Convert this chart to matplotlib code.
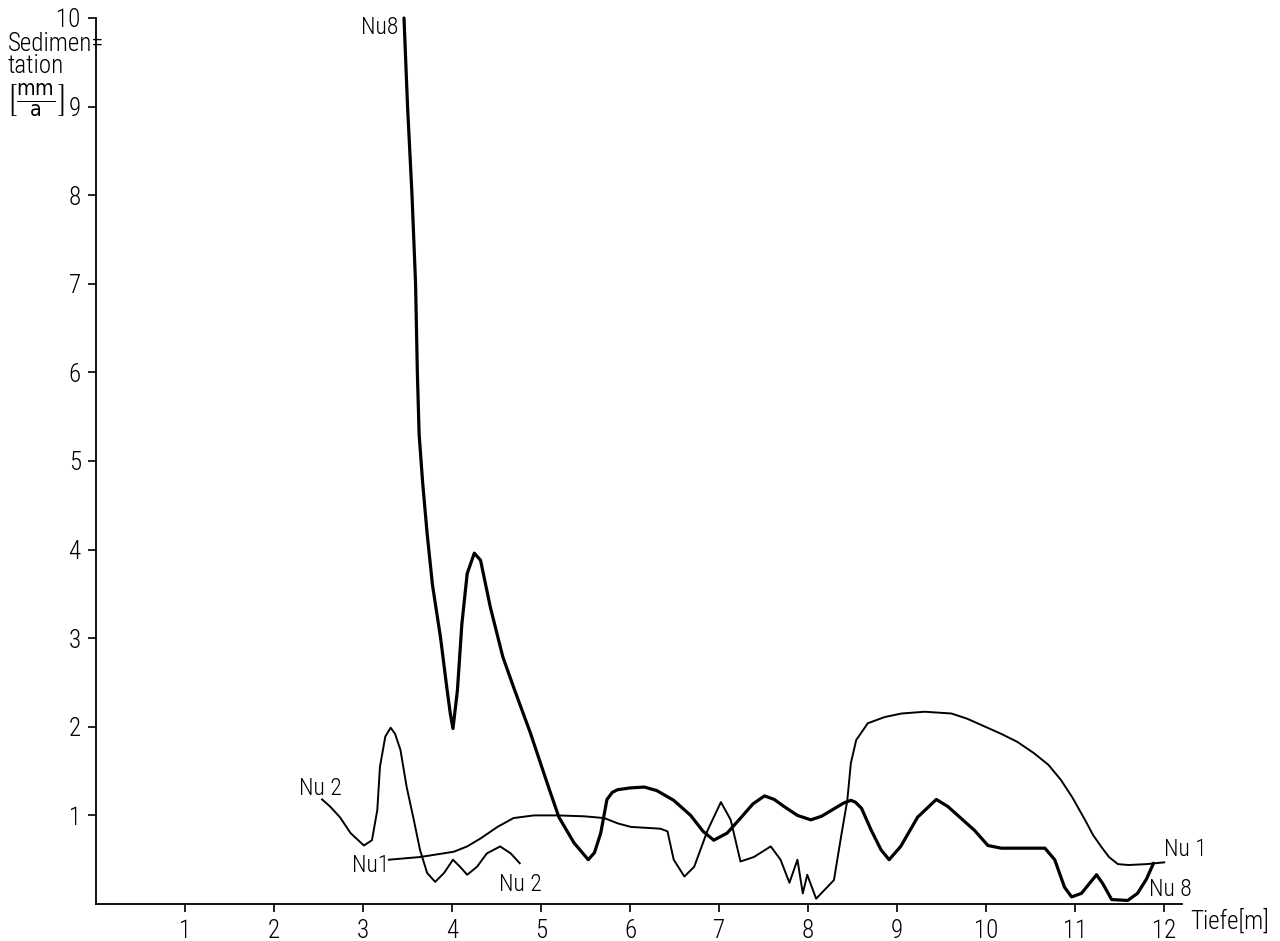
import matplotlib
matplotlib.use("Agg")
import matplotlib.pyplot as plt
from matplotlib import font_manager as fm

names = {f.name for f in fm.fontManager.ttflist}
cand = [n for n in ['Liberation Sans Narrow', 'DejaVu Sans Condensed', 'Roboto Condensed', 'Open Sans Condensed'] if n in names]
FAM = cand + ['DejaVu Sans']
plt.rcParams['font.family'] = FAM
plt.rcParams['font.stretch'] = 'condensed'
plt.rcParams['font.weight'] = 'light'

# Nu 8 (thick line)
nu8_x = [3.46, 3.50, 3.55, 3.59, 3.61, 3.63, 3.67, 3.72, 3.78, 3.87, 3.94, 3.98, 4.01,
         4.06, 4.11, 4.17, 4.25, 4.32, 4.43, 4.57, 4.69, 4.88, 5.07, 5.20,
         5.37, 5.53, 5.60, 5.67, 5.74, 5.80, 5.86, 6.00, 6.16, 6.30, 6.49, 6.68,
         6.82, 6.94, 7.09, 7.25, 7.38, 7.51, 7.62, 7.73, 7.88, 8.03, 8.15, 8.30,
         8.40, 8.48, 8.53, 8.60, 8.71, 8.82, 8.91, 9.04, 9.23,
         9.44, 9.57, 9.87, 10.02, 10.17, 10.66, 10.77, 10.88, 10.96, 11.07,
         11.24, 11.31, 11.41, 11.59, 11.70, 11.80, 11.88]
nu8_y = [10.0, 9.0, 8.0, 7.0, 6.0, 5.3, 4.75, 4.18, 3.6, 3.01, 2.45, 2.15, 1.98,
         2.41, 3.16, 3.73, 3.96, 3.88, 3.35, 2.79, 2.45, 1.93, 1.36, 0.98,
         0.69, 0.50, 0.58, 0.80, 1.18, 1.26, 1.29, 1.31, 1.32, 1.28, 1.17, 1.00,
         0.82, 0.72, 0.80, 0.98, 1.13, 1.22, 1.18, 1.10, 1.00, 0.95, 0.99, 1.08,
         1.14, 1.17, 1.15, 1.08, 0.83, 0.61, 0.50, 0.65, 0.98,
         1.18, 1.10, 0.83, 0.66, 0.63, 0.63, 0.50, 0.19, 0.08, 0.12,
         0.33, 0.23, 0.05, 0.04, 0.12, 0.28, 0.46]

# Nu 1 (thin line)
nu1_x = [3.29, 3.64, 4.02, 4.17, 4.32, 4.51, 4.69, 4.92, 5.18, 5.48, 5.71, 5.86,
         6.01, 6.34, 6.42, 6.49, 6.61, 6.72, 6.87, 7.02, 7.13, 7.24, 7.39, 7.58,
         7.69, 7.79, 7.88, 7.94, 7.99, 8.09, 8.29, 8.37, 8.44, 8.48, 8.54, 8.67,
         8.86, 9.05, 9.31, 9.61, 9.79, 10.17, 10.35, 10.54, 10.70, 10.84, 10.97,
         11.11, 11.20, 11.29, 11.38, 11.48, 11.60, 11.80, 12.00]
nu1_y = [0.50, 0.53, 0.59, 0.65, 0.74, 0.87, 0.97, 1.00, 1.00, 0.99, 0.97, 0.91,
         0.87, 0.85, 0.82, 0.50, 0.31, 0.42, 0.83, 1.15, 0.95, 0.48, 0.53, 0.65,
         0.50, 0.24, 0.50, 0.12, 0.33, 0.06, 0.27, 0.76, 1.17, 1.59, 1.85, 2.04,
         2.11, 2.15, 2.17, 2.15, 2.09, 1.92, 1.83, 1.70, 1.57, 1.40, 1.20,
         0.95, 0.78, 0.65, 0.53, 0.45, 0.44, 0.45, 0.47]

# Nu 2 (thin line)
nu2_x = [2.54, 2.63, 2.74, 2.86, 3.01, 3.10, 3.16, 3.19, 3.25, 3.31, 3.36, 3.42,
         3.49, 3.57, 3.64, 3.72, 3.81, 3.91, 4.01, 4.09, 4.17, 4.28, 4.39, 4.54,
         4.66, 4.76]
nu2_y = [1.18, 1.10, 0.98, 0.80, 0.66, 0.72, 1.06, 1.55, 1.89, 1.99, 1.92, 1.74,
         1.32, 0.95, 0.61, 0.35, 0.25, 0.35, 0.50, 0.42, 0.33, 0.42, 0.57, 0.65,
         0.57, 0.46]

x_ticks = [1, 2, 3, 4, 5, 6, 7, 8, 9, 10, 11, 12]
y_ticks = [1, 2, 3, 4, 5, 6, 7, 8, 9, 10]

fig = plt.figure(figsize=(12.8, 9.41), dpi=100)
ax = fig.add_axes([96 / 1280, 37 / 941, (1182 - 96) / 1280, (904 - 18) / 941])
ax.set_xlim(0, 12.2)
ax.set_ylim(0, 10)

ax.plot(nu8_x, nu8_y, color='black', lw=2.3, solid_joinstyle='round', solid_capstyle='round', clip_on=False)
ax.plot(nu1_x, nu1_y, color='black', lw=1.4, solid_joinstyle='round')
ax.plot(nu2_x, nu2_y, color='black', lw=1.4, solid_joinstyle='round')

for s in ['top', 'right']:
    ax.spines[s].set_visible(False)
for s in ['left', 'bottom']:
    ax.spines[s].set_linewidth(1.3)

ax.set_xticks(x_ticks)
ax.set_yticks(y_ticks)
ax.set_xticklabels([str(v) for v in x_ticks])
ax.set_yticklabels([str(v) for v in y_ticks])
ax.tick_params(axis='both', direction='out', length=6, width=1.2, labelsize=18, pad=5)

# curve labels
FS = 17
ax.text(3.40, 9.89, 'Nu8', fontsize=FS, ha='right', va='center')
ax.text(2.28, 1.30, 'Nu 2', fontsize=FS, ha='left', va='center')
ax.text(3.30, 0.43, 'Nu1', fontsize=FS, ha='right', va='center')
ax.text(4.53, 0.22, 'Nu 2', fontsize=FS, ha='left', va='center')
ax.text(12.00, 0.61, 'Nu 1', fontsize=FS, ha='left', va='center')
ax.text(11.83, 0.16, 'Nu 8', fontsize=FS, ha='left', va='center')

# axis titles
fig.text(1190 / 1280, 1 - 921 / 941, 'Tiefe[m]', fontsize=18, ha='left', va='center')
fig.text(8 / 1280, 1 - 55 / 941, 'Sedimen=\ntation', fontsize=18, ha='left', va='center', linespacing=0.9)
fig.text(6 / 1280, 1 - 100 / 941, r'$\left[\frac{\mathsf{mm}}{\mathsf{a}}\right]$', fontsize=22, ha='left', va='center')

fig.savefig('out.png', dpi=100)
